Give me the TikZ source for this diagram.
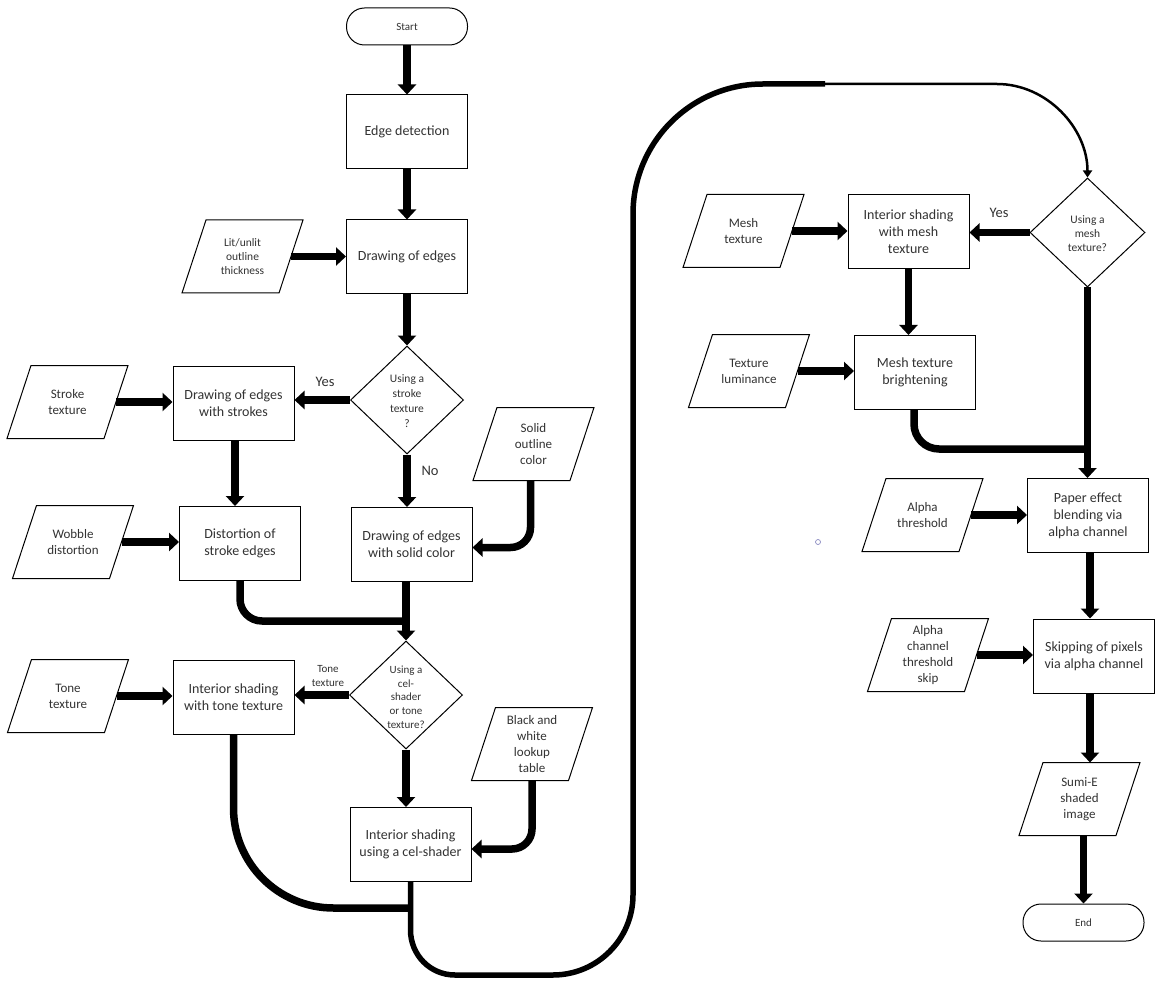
\documentclass[tikz,border=0pt]{standalone}
\usepackage{fontspec}
\setmainfont{Carlito}
\usetikzlibrary{shapes.geometric,arrows.meta}

% parallelogram outline around an input/output text node
\newcommand\ioframe[1]{%
  \draw[ioline] ([xshift=12pt]#1.north west) -- ([xshift=12pt]#1.north east)
    -- ([xshift=-12pt]#1.south east) -- ([xshift=-12pt]#1.south west) -- cycle;}

\tikzset{
  every node/.style={text=black!80},
  proc/.style={draw, line width=1pt, rectangle, minimum width=121pt,
    minimum height=74pt, align=center, inner sep=2pt,
    font=\fontsize{14}{17}\selectfont},
  terminal/.style={draw, line width=1pt, rectangle, rounded corners=18pt,
    minimum width=121pt, minimum height=37pt, font=\fontsize{11}{13}\selectfont},
  iobox/.style={rectangle, minimum width=97pt, minimum height=73pt,
    inner sep=0pt, outer sep=0pt, align=center, font=\fontsize{13}{16}\selectfont},
  ioline/.style={line width=1pt, line join=miter},
  decision/.style={diamond, draw, line width=1pt, inner sep=0pt,
    minimum width=113pt, minimum height=108pt},
  dtext/.style={align=center, inner sep=0pt, font=\fontsize{11.5}{15}\selectfont},
  answer/.style={font=\fontsize{14.5}{17}\selectfont},
  flow/.style={line width=7.5pt, -{Triangle[width=18pt,length=10pt]}},
  flowline/.style={line width=7.5pt},
  loopline/.style={line width=5.5pt},
  thinflow/.style={line width=2.5pt, -{Triangle[width=9pt,length=7pt]}},
}

\begin{document}
\begin{tikzpicture}[x=1pt, y=-1pt]
\useasboundingbox (0,0) rectangle (1161,981);
\fill[white] (0,0) rectangle (1161,981);

% ---------- left column: edges ----------
\node[terminal] (start) at (407,26.5) {Start};
\node[proc] (edge) at (407,132) {Edge detection};
\node[proc] (edgesdraw) at (407,257) {Drawing of edges};
\node[iobox, font=\fontsize{11.5}{14}\selectfont] (lit) at (242.5,256.5) {Lit/unlit\\outline\\thickness};
\ioframe{lit}

\node[decision] (d1) at (407,400) {};
\node[dtext] (d1t) at (407,401) {Using a\\stroke\\texture\\?};

\node[proc] (strokes) at (233.5,403) {Drawing of edges\\with strokes};
\node[iobox] (stroketex) at (67.5,402) {Stroke\\texture};
\ioframe{stroketex}
\node[proc] (distort) at (240,543.5) {Distortion of\\stroke edges};
\node[iobox] (wobble) at (73,542) {Wobble\\distortion};
\ioframe{wobble}
\node[proc] (solid) at (411.5,544.5) {Drawing of edges\\with solid color};
\node[iobox] (solidcol) at (533.5,444) {Solid\\outline\\color};
\ioframe{solidcol}

\node[answer] (yes1) at (325,382) {Yes};
\node[answer] (no1) at (430,471) {No};

% ---------- left column: interior shading ----------
\node[decision] (d2) at (406,695) {};
\node[dtext, font=\fontsize{11}{13.7}\selectfont] (d2t) at (406,697) {Using a\\cel-\\shader\\or tone\\texture?};
\node[proc] (tone) at (233.5,697) {Interior shading\\with tone texture};
\node[iobox] (tonetex) at (68,696) {Tone\\texture};
\ioframe{tonetex}
\node[dtext, font=\fontsize{11}{13.3}\selectfont] (tonelbl) at (328,676) {Tone\\texture};
\node[proc] (cel) at (410.5,844.5) {Interior shading\\using a cel-shader};
\node[iobox] (bwlut) at (532,744) {Black and\\white\\lookup\\table};
\ioframe{bwlut}

% ---------- right column ----------
\node[decision, minimum width=115pt, minimum height=109pt] (d3) at (1087.5,232.5) {};
\node[dtext, font=\fontsize{11.5}{14}\selectfont] (d3t) at (1087.5,234) {Using a\\mesh\\texture?};
\node[proc] (mesh) at (908.5,232) {Interior shading\\with mesh\\texture};
\node[iobox] (meshtex) at (743.5,231) {Mesh\\texture};
\ioframe{meshtex}
\node[answer] (yes3) at (999,213) {Yes};
\node[proc] (bright) at (915,372.5) {Mesh texture\\brightening};
\node[iobox] (texlum) at (749,371) {Texture\\luminance};
\ioframe{texlum}
\node[proc] (paper) at (1088,515.5) {Paper effect\\blending via\\alpha channel};
\node[iobox] (alphath) at (922.5,515) {Alpha\\threshold};
\ioframe{alphath}
\node[proc] (skip) at (1094,656) {Skipping of pixels\\via alpha channel};
\node[iobox] (alphaskip) at (928,655) {Alpha\\channel\\threshold\\skip};
\ioframe{alphaskip}
\node[iobox] (sumie) at (1079.5,799) {Sumi-E\\shaded\\image};
\ioframe{sumie}
\node[terminal] (endn) at (1083.5,922.5) {End};

\node[circle, draw=blue!30!gray!70, line width=0.7pt, minimum size=5pt, inner sep=0pt] (dot) at (818,542) {};

% ---------- connectors: edges ----------
\draw[flow] (start) -- (edge);
\draw[flow] (edge) -- (edgesdraw);
\draw[flow] (lit.east) -- (lit.east -| edgesdraw.west);
\draw[flow] (edgesdraw.south) -- (edgesdraw.south |- d1.north);
\draw[flow] (d1.west) -- (d1.west -| strokes.east);
\draw[flow] (stroketex.east) -- (stroketex.east -| strokes.west);
\draw[flow] ([xshift=1.5pt]strokes.south) -- ([xshift=1.5pt]strokes.south |- distort.north);
\draw[flow] (wobble.east) -- (wobble.east -| distort.west);
\draw[flow] (d1.south) -- (d1.south |- solid.north);
\draw[flow, rounded corners=20pt] ([xshift=-3pt]solidcol.south) |- ([yshift=-3pt]solid.east);

\coordinate (m1) at (406,621);
\draw[flowline, rounded corners=22pt] (distort.south) |- (m1);
\draw[flow] (d2.north |- solid.south) -- (d2.north);

% ---------- connectors: interior shading ----------
\draw[flow] (d2.west) -- (d2.west -| tone.east);
\draw[flow] (tonetex.east) -- (tonetex.east -| tone.west);
\draw[flow] (d2.south) -- (d2.south |- cel.north);
\draw[flow, rounded corners=20pt] (bwlut.south) |- ([yshift=-4.5pt]cel.east);
\coordinate (m2) at (410.5,908);
\draw[flowline, rounded corners=100pt] (tone.south) |- (m2);

% long return loop to the mesh decision
\coordinate (lj) at (825,84);
\draw[loopline] (cel.south) -- (410.5,930)
  .. controls (410.5,954.9) and (430.1,975) .. (455,975) -- (553,975)
  .. controls (597.2,975) and (633,939.2) .. (633,895) -- (633,214)
  .. controls (633,142.2) and (691.2,84) .. (763,84) -- (lj);
\draw[thinflow] (lj) -- (997,84)
  .. controls (1046.7,84) and (1087.5,128) .. (d3.north);

% ---------- connectors: right column ----------
\draw[flow] (meshtex.east) -- (meshtex.east -| mesh.west);
\draw[flow] (d3.west) -- (d3.west -| mesh.east);
\draw[flow] (mesh.south) -- (mesh.south |- bright.north);
\draw[flow] (texlum.east) -- (texlum.east -| bright.west);
\coordinate (m3) at (1087.5,449);
\draw[flowline, rounded corners=25pt] ([xshift=-1pt]bright.south) |- (m3);
\draw[flow] (d3.south) -- (d3.south |- paper.north);
\draw[flow] (alphath.east) -- (alphath.east -| paper.west);
\draw[flow] ([xshift=2pt]paper.south) -- ([xshift=2pt]paper.south |- skip.north);
\draw[flow] (alphaskip.east) -- (alphaskip.east -| skip.west);
\draw[flow] ([xshift=-4pt]skip.south) -- ([xshift=-4pt]skip.south |- sumie.north);
\draw[flow] (endn.north |- sumie.south) -- (endn.north);
\end{tikzpicture}
\end{document}
